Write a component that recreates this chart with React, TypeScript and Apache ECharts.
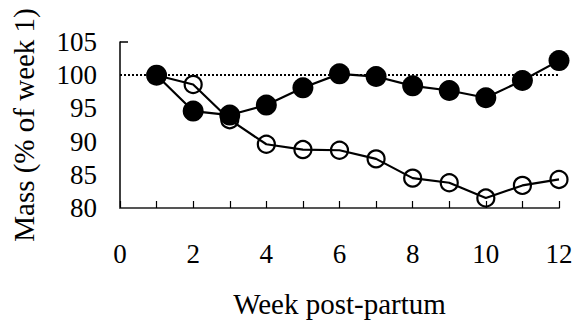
import React, { useEffect, useRef } from "react";
import * as echarts from "echarts";

const weeks = [1, 2, 3, 4, 5, 6, 7, 8, 9, 10, 11, 12];
const filledSeries = [100, 94.6, 94.0, 95.5, 98.1, 100.2, 99.8, 98.4, 97.7, 96.6, 99.2, 102.2];
const openSeries = [100, 98.6, 93.3, 89.6, 88.8, 88.7, 87.4, 84.5, 83.8, 81.5, 83.4, 84.3];
const referenceLevel = 100;
const xTitle = "Week post-partum";
const yTitle = "Mass (% of week 1)";

export default function App() {
  const ref = useRef<HTMLDivElement>(null);
  useEffect(() => {
    document.body.style.margin = "0";
    if (!ref.current) return;
    const chart = echarts.init(ref.current, null, { renderer: "svg" });
    const font = "'Liberation Serif', 'Times New Roman', serif";
    chart.setOption({
      animation: false,
      backgroundColor: "#ffffff",
      grid: { left: 120, right: 17, top: 42, bottom: 108, containLabel: false },
      xAxis: {
        type: "value",
        min: 0,
        max: 12,
        interval: 1,
        name: xTitle,
        nameLocation: "middle",
        nameGap: 81,
        nameTextStyle: { fontFamily: font, fontSize: 29, color: "#000" },
        axisLine: { show: true, lineStyle: { color: "#555", width: 2 } },
        axisTick: { show: true, inside: true, length: 7, lineStyle: { color: "#000", width: 1.2 } },
        axisLabel: {
          fontFamily: font,
          fontSize: 27,
          color: "#000",
          margin: 32,
          formatter: (v: number) => (v % 2 === 0 ? String(v) : ""),
        },
        splitLine: { show: false },
      },
      yAxis: {
        type: "value",
        min: 80,
        max: 105,
        interval: 5,
        name: yTitle,
        nameLocation: "middle",
        nameGap: 82,
        nameTextStyle: { fontFamily: font, fontSize: 29, color: "#000" },
        axisLine: { show: true, lineStyle: { color: "#000", width: 1.5 } },
        axisTick: { show: true, inside: true, length: 8, customValues: [105], lineStyle: { color: "#000", width: 1.5 } },
        axisLabel: { fontFamily: font, fontSize: 27, color: "#000", margin: 23 },
        splitLine: { show: false },
      },
      series: [
        {
          type: "line",
          data: weeks.map((w, i) => [w, openSeries[i]]),
          symbol: "circle",
          symbolSize: 17,
          lineStyle: { color: "#000", width: 2.2 },
          itemStyle: { color: "transparent", borderColor: "#000", borderWidth: 2.2 },
          z: 2,
          markLine: {
            silent: true,
            symbol: "none",
            label: { show: false },
            lineStyle: { color: "#000", type: [2, 2], width: 2 },
            data: [{ yAxis: referenceLevel }],
          },
        },
        {
          type: "line",
          data: weeks.map((w, i) => [w, filledSeries[i]]),
          symbol: "circle",
          symbolSize: 21,
          lineStyle: { color: "#000", width: 2.2 },
          itemStyle: { color: "#000", borderColor: "#000", borderWidth: 0 },
          z: 3,
        },
      ],
    });
    return () => chart.dispose();
  }, []);
  return <div ref={ref} style={{ width: 576, height: 323 }} />;
}
